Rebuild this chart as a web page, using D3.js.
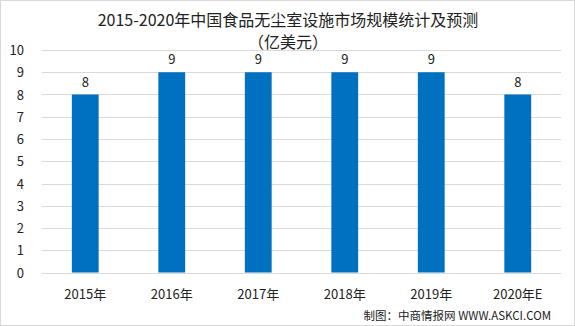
<!DOCTYPE html>
<html>
<head>
<meta charset="utf-8">
<script src="https://cdn.jsdelivr.net/npm/d3@7"></script>
<style>
  body { margin: 0; background: #fff; }
  text { font-family: "Noto Sans CJK SC", "DejaVu Sans", sans-serif; }
</style>
</head>
<body>
<div id="chart"></div>
<script>
// data
const years = ["2015年", "2016年", "2017年", "2018年", "2019年", "2020年E"];
const values = [8, 9, 9, 9, 9, 8];
const yTicks = [0, 1, 2, 3, 4, 5, 6, 7, 8, 9, 10];

const width = 575, height = 326;
const margin = {top: 50, right: 14, bottom: 53.5, left: 42};

const svg = d3.select("#chart").append("svg")
    .attr("width", width)
    .attr("height", height);

// outer border
svg.append("rect")
    .attr("x", 0.5).attr("y", 0.5)
    .attr("width", width - 1).attr("height", height - 1)
    .attr("fill", "#fff")
    .attr("stroke", "#d9d9d9");

const x = d3.scaleBand()
    .domain(years)
    .range([margin.left, width - margin.right])
    .paddingInner(0.69)
    .paddingOuter(0.345);

const y = d3.scaleLinear()
    .domain([0, 10])
    .range([height - margin.bottom, margin.top]);

// gridlines
svg.selectAll(".grid")
    .data(yTicks)
    .enter()
    .append("line")
    .attr("class", "grid")
    .attr("x1", margin.left)
    .attr("x2", width - margin.right)
    .attr("y1", d => Math.round(y(d)) + 0.5)
    .attr("y2", d => Math.round(y(d)) + 0.5)
    .attr("stroke", "#d9d9d9")
    .attr("stroke-width", 1);

// y labels
svg.selectAll(".ylab")
    .data(yTicks)
    .enter()
    .append("text")
    .attr("class", "ylab")
    .attr("x", 24)
    .attr("y", d => y(d) + 5)
    .attr("text-anchor", "end")
    .attr("font-size", 13)
    .attr("fill", "#222")
    .text(d => d);

// bars
svg.selectAll(".bar")
    .data(values)
    .enter()
    .append("rect")
    .attr("class", "bar")
    .attr("x", (d, i) => x(years[i]))
    .attr("width", x.bandwidth())
    .attr("y", d => y(d))
    .attr("height", d => y(0) - y(d))
    .attr("fill", "#0070C0");

// value labels
svg.selectAll(".vlab")
    .data(values)
    .enter()
    .append("text")
    .attr("class", "vlab")
    .attr("x", (d, i) => x(years[i]) + x.bandwidth() / 2)
    .attr("y", d => y(d) - 8)
    .attr("text-anchor", "middle")
    .attr("font-size", 13)
    .attr("fill", "#222")
    .text(d => d);

// x labels
svg.selectAll(".xlab")
    .data(years)
    .enter()
    .append("text")
    .attr("class", "xlab")
    .attr("x", d => x(d) + x.bandwidth() / 2)
    .attr("y", 299)
    .attr("text-anchor", "middle")
    .attr("font-size", 13)
    .attr("fill", "#222")
    .text(d => d);

// title
svg.append("text")
    .attr("x", 288).attr("y", 26)
    .attr("text-anchor", "middle")
    .attr("font-size", 16)
    .attr("fill", "#222")
    .text("2015-2020年中国食品无尘室设施市场规模统计及预测");

svg.append("text")
    .attr("x", 288).attr("y", 48)
    .attr("text-anchor", "middle")
    .attr("font-size", 16)
    .attr("fill", "#222")
    .text("（亿美元）");

// source
svg.append("text")
    .attr("x", 551).attr("y", 320)
    .attr("text-anchor", "end")
    .attr("font-size", 11.5)
    .attr("fill", "#222")
    .text("制图：中商情报网 WWW.ASKCI.COM");
</script>
</body>
</html>
